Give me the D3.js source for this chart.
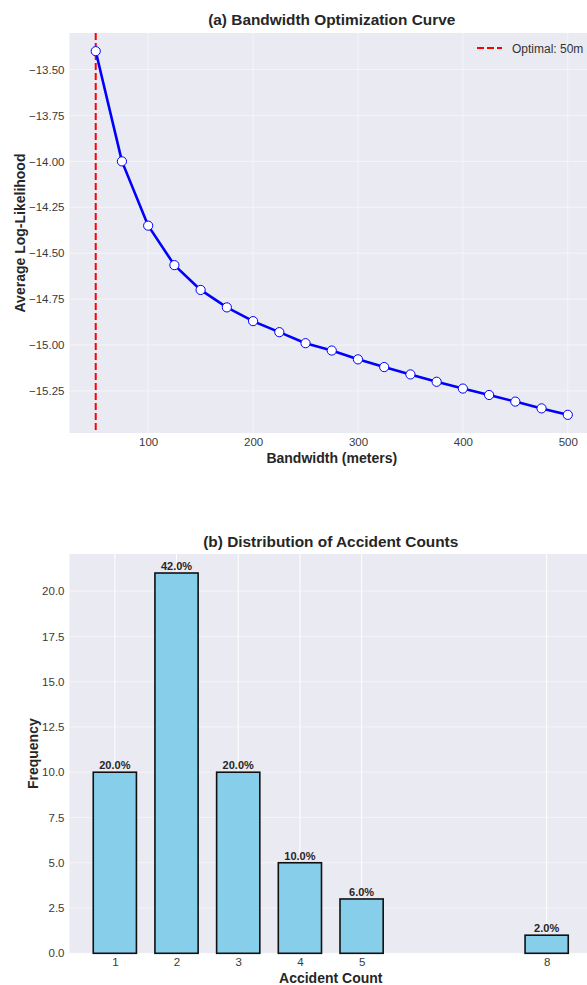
<!DOCTYPE html>
<html>
<head>
<meta charset="utf-8">
<script src="https://cdn.jsdelivr.net/npm/d3@7/dist/d3.min.js"></script>
<style>
  html, body { margin: 0; padding: 0; background: #fff; }
  svg { display: block; font-family: "Liberation Sans", Arial, sans-serif; }
</style>
</head>
<body>
<svg id="chart" width="587" height="985"></svg>
<script>
// Panel (a): average log-likelihood for each candidate bandwidth
const bandwidths = [50, 75, 100, 125, 150, 175, 200, 225, 250, 275, 300, 325, 350, 375, 400, 425, 450, 475, 500];
const logLik = [-13.40, -14.00, -14.35, -14.565, -14.70, -14.795, -14.87, -14.93, -14.99, -15.03, -15.078, -15.12, -15.16, -15.20, -15.237, -15.272, -15.308, -15.345, -15.38];
const optimalBandwidth = 50;
const bwTicks = [100, 200, 300, 400, 500];
const llTicks = [-13.50, -13.75, -14.00, -14.25, -14.50, -14.75, -15.00, -15.25];

// Panel (b): how many locations had each accident count
const accidentCounts = [1, 2, 3, 4, 5, 8];
const frequencies = [10, 21, 10, 5, 3, 1];
const freqTicks = [0, 2.5, 5, 7.5, 10, 12.5, 15, 17.5, 20];

const svg = d3.select("#chart");
const BG = "#EAEAF2";
const TICK_COLOR = "#3a3a3a";
const TICK_SIZE = 11.5;

function panelFrame(g, x0, y0, w, h) {
  g.append("rect").attr("x", x0).attr("y", y0).attr("width", w).attr("height", h).attr("fill", BG);
}

// ---------- Panel (a) ----------
{
  const left = 69.5, top = 33, right = 594, bottom = 433;
  const x = d3.scaleLinear().domain([25, 525]).range([left, right]);
  const ext = d3.extent(logLik);
  const pad = (ext[1] - ext[0]) * 0.05;
  const y = d3.scaleLinear().domain([ext[0] - pad, ext[1] + pad]).range([bottom, top]);

  const g = svg.append("g");
  panelFrame(g, left, top, right - left, bottom - top);

  // grid
  g.append("g").selectAll("line.v").data(bwTicks).join("line")
    .attr("x1", d => x(d)).attr("x2", d => x(d)).attr("y1", top).attr("y2", bottom)
    .attr("stroke", "#fff").attr("stroke-opacity", 0.5).attr("stroke-width", 1);
  g.append("g").selectAll("line.h").data(llTicks).join("line")
    .attr("x1", left).attr("x2", right).attr("y1", d => y(d)).attr("y2", d => y(d))
    .attr("stroke", "#fff").attr("stroke-opacity", 0.5).attr("stroke-width", 1);

  // axes
  const xAxis = d3.axisBottom(x).tickValues(bwTicks).tickSize(0).tickPadding(5).tickFormat(d3.format("d"));
  const gx = g.append("g").attr("transform", `translate(0,${bottom})`).call(xAxis);
  gx.select(".domain").remove();
  gx.selectAll("text").attr("font-size", TICK_SIZE).attr("fill", TICK_COLOR);

  const yAxis = d3.axisLeft(y).tickValues(llTicks).tickSize(0).tickPadding(5).tickFormat(d3.format(".2f"));
  const gy = g.append("g").attr("transform", `translate(${left},0)`).call(yAxis);
  gy.select(".domain").remove();
  gy.selectAll("text").attr("font-size", TICK_SIZE).attr("fill", TICK_COLOR);

  // optimal bandwidth marker
  g.append("line")
    .attr("x1", x(optimalBandwidth)).attr("x2", x(optimalBandwidth))
    .attr("y1", top).attr("y2", bottom)
    .attr("stroke", "#ff0000").attr("stroke-width", 2).attr("stroke-dasharray", "7,3");

  // curve
  const line = d3.line().x((d, i) => x(bandwidths[i])).y(d => y(d));
  g.append("path").datum(logLik).attr("d", line)
    .attr("fill", "none").attr("stroke", "#0000ff").attr("stroke-width", 2.6)
    .attr("stroke-linejoin", "round");
  g.append("g").selectAll("circle").data(logLik).join("circle")
    .attr("cx", (d, i) => x(bandwidths[i])).attr("cy", d => y(d)).attr("r", 4.6)
    .attr("fill", "#fff").attr("stroke", "#0000ff").attr("stroke-width", 1);

  // legend
  const lg = g.append("g").attr("transform", "translate(477,48)");
  lg.append("line").attr("x1", 0).attr("x2", 25).attr("y1", 0).attr("y2", 0)
    .attr("stroke", "#ff0000").attr("stroke-width", 2).attr("stroke-dasharray", "7,3");
  lg.append("text").attr("x", 35).attr("y", 4.5).attr("font-size", 12).attr("fill", "#333")
    .text(`Optimal: ${optimalBandwidth}m`);

  // titles
  g.append("text").attr("x", (left + right) / 2).attr("y", 25).attr("text-anchor", "middle")
    .attr("font-size", 15.4).attr("font-weight", "bold").attr("fill", "#262626")
    .text("(a) Bandwidth Optimization Curve");
  g.append("text").attr("x", (left + right) / 2).attr("y", 463).attr("text-anchor", "middle")
    .attr("font-size", 14).attr("font-weight", "bold").attr("fill", "#262626")
    .text("Bandwidth (meters)");
  g.append("text").attr("transform", `translate(25,${(top + bottom) / 2}) rotate(-90)`)
    .attr("text-anchor", "middle")
    .attr("font-size", 14).attr("font-weight", "bold").attr("fill", "#262626")
    .text("Average Log-Likelihood");
}

// ---------- Panel (b) ----------
{
  const left = 69.5, top = 554, right = 592, bottom = 953.3;
  const barWidth = 0.7;
  const xMin = d3.min(accidentCounts) - barWidth / 2, xMax = d3.max(accidentCounts) + barWidth / 2;
  const xPad = (xMax - xMin) * 0.05;
  const x = d3.scaleLinear().domain([xMin - xPad, xMax + xPad]).range([left, right]);
  const y = d3.scaleLinear().domain([0, d3.max(frequencies) * 1.05]).range([bottom, top]);
  const total = d3.sum(frequencies);

  const g = svg.append("g");
  panelFrame(g, left, top, right - left, bottom - top);

  g.append("g").selectAll("line.h").data(freqTicks).join("line")
    .attr("x1", left).attr("x2", right).attr("y1", d => y(d)).attr("y2", d => y(d))
    .attr("stroke", "#fff").attr("stroke-opacity", 0.5).attr("stroke-width", 1);
  g.append("g").selectAll("line.v").data(accidentCounts).join("line")
    .attr("x1", d => x(d)).attr("x2", d => x(d)).attr("y1", top).attr("y2", bottom)
    .attr("stroke", "#fff").attr("stroke-width", 1);

  const xAxis = d3.axisBottom(x).tickValues(accidentCounts).tickSize(0).tickPadding(5).tickFormat(d3.format("d"));
  const gx = g.append("g").attr("transform", `translate(0,${bottom})`).call(xAxis);
  gx.select(".domain").remove();
  gx.selectAll("text").attr("font-size", TICK_SIZE).attr("fill", TICK_COLOR);

  const yAxis = d3.axisLeft(y).tickValues(freqTicks).tickSize(0).tickPadding(5).tickFormat(d3.format(".1f"));
  const gy = g.append("g").attr("transform", `translate(${left},0)`).call(yAxis);
  gy.select(".domain").remove();
  gy.selectAll("text").attr("font-size", TICK_SIZE).attr("fill", TICK_COLOR);

  const bars = accidentCounts.map((c, i) => ({ c, f: frequencies[i] }));
  g.append("g").selectAll("rect").data(bars).join("rect")
    .attr("x", d => x(d.c - barWidth / 2))
    .attr("width", d => x(d.c + barWidth / 2) - x(d.c - barWidth / 2))
    .attr("y", d => y(d.f)).attr("height", d => y(0) - y(d.f))
    .attr("fill", "#87CEEB").attr("stroke", "#111").attr("stroke-width", 1.6);

  g.append("g").selectAll("text").data(bars).join("text")
    .attr("x", d => x(d.c)).attr("y", d => y(d.f) - 3)
    .attr("text-anchor", "middle").attr("font-size", 11).attr("font-weight", "bold").attr("fill", "#262626")
    .text(d => (d.f / total * 100).toFixed(1) + "%");

  g.append("text").attr("x", (left + right) / 2).attr("y", 546.5).attr("text-anchor", "middle")
    .attr("font-size", 15.4).attr("font-weight", "bold").attr("fill", "#262626")
    .text("(b) Distribution of Accident Counts");
  g.append("text").attr("x", (left + right) / 2).attr("y", 982.5).attr("text-anchor", "middle")
    .attr("font-size", 14).attr("font-weight", "bold").attr("fill", "#262626")
    .text("Accident Count");
  g.append("text").attr("transform", `translate(38,${(top + bottom) / 2}) rotate(-90)`)
    .attr("text-anchor", "middle")
    .attr("font-size", 14).attr("font-weight", "bold").attr("fill", "#262626")
    .text("Frequency");
}
</script>
</body>
</html>
